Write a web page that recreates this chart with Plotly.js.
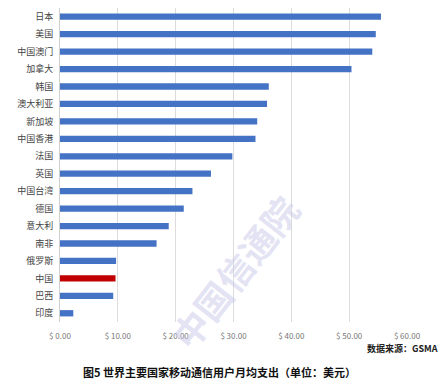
<!DOCTYPE html>
<html><head><meta charset="utf-8">
<script src="https://cdn.plot.ly/plotly-3.0.1.min.js"></script>
<style>html,body{margin:0;padding:0;background:#fff}#c{width:446px;height:385px}</style>
</head><body><div id="c"></div>
<script>
const countries = ["日本","美国","中国澳门","加拿大","韩国","澳大利亚","新加坡","中国香港","法国","英国","中国台湾","德国","意大利","南非","俄罗斯","中国","巴西","印度"];
const spend = [55.5,54.6,54.0,50.4,36.1,35.8,34.1,33.8,29.8,26.1,22.9,21.4,18.8,16.7,9.7,9.6,9.2,2.3];
const highlight = "中国";
const colors = countries.map(c => c === highlight ? "#c00000" : "#4472c4");
const font = '"Noto Sans CJK SC", "Noto Sans", sans-serif';
Plotly.newPlot("c", [{
  type: "bar", orientation: "h", x: spend, y: countries, width: 0.36,
  marker: {color: colors}, hoverinfo: "x+y"
}], {
  width: 446, height: 385,
  margin: {l: 60, r: 39, t: 8, b: 63},
  paper_bgcolor: "#fff", plot_bgcolor: "#fff",
  showlegend: false,
  xaxis: {range: [0, 60], dtick: 10, tickprefix: "$ ", tickformat: ".2f",
    showgrid: true, gridcolor: "#dcdcdc", gridwidth: 1, zeroline: false,
    ticks: "outside", ticklen: 6, tickcolor: "rgba(0,0,0,0)",
    tickfont: {family: font, size: 8, color: "#777"}, fixedrange: true},
  yaxis: {autorange: "reversed", showline: true, linecolor: "#cfcfcf", linewidth: 1,
    ticks: "outside", ticklen: 4, tickcolor: "rgba(0,0,0,0)",
    tickfont: {family: font, size: 9, color: "#444"}, fixedrange: true},
  annotations: [
    {text: "<b>中国信通院</b>", xref: "paper", yref: "paper", x: 0.5, y: 0.16, showarrow: false,
     textangle: -52, font: {family: font, size: 36, color: "rgba(200,200,232,0.5)"}, xanchor: "center", yanchor: "middle"},
    {text: "<b>数据来源：GSMA</b>", xref: "paper", yref: "paper", x: 1.095, y: -0.085, showarrow: false,
     xanchor: "right", yanchor: "middle", font: {family: font, size: 9, color: "#222"}},
    {text: "<b>图5 世界主要国家移动通信用户月均支出（单位：美元）</b>", xref: "paper", yref: "paper", x: 0.46, y: -0.16, showarrow: false,
     xanchor: "center", yanchor: "middle", font: {family: font, size: 11, color: "#111"}}
  ]
}, {displayModeBar: false, staticPlot: true});
</script></body></html>
